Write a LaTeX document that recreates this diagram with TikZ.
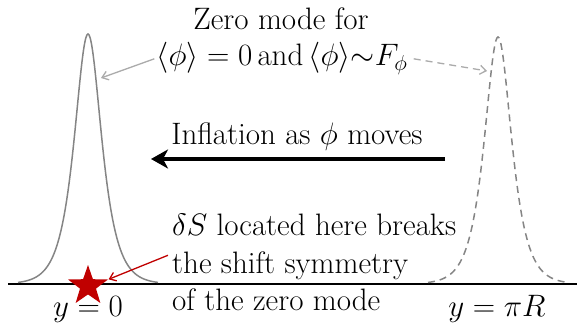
\RequirePackage{fix-cm}
\documentclass[tikz,border=0pt]{standalone}
\usepackage{fontspec}
\usetikzlibrary{arrows.meta,positioning,shapes.geometric}
\definecolor{curve}{HTML}{858585}
\definecolor{pointer}{HTML}{ABABAB}
\definecolor{defect}{HTML}{C00000}

\begin{document}
\begin{tikzpicture}[
  x=1pt, y=-1pt,
  font=\fontsize{31}{36}\selectfont,
  txt/.style={inner sep=0pt, align=center},
  peak/.style={draw=curve, line width=1.5pt},
  ghost/.style={peak, dash pattern=on 7pt off 5pt},
  hint/.style={-{Straight Barb[length=6pt, width=9pt]}, line width=1.3pt, draw=pointer},
  push/.style={-{Stealth[length=17pt, width=19pt, inset=5pt]}, line width=3.5pt},
  marker/.style={star, star points=5, star point ratio=2.5, fill=defect,
    minimum size=42pt, inner sep=0pt}
]
\useasboundingbox (0,0) rectangle (577,323);
% brane axis
\draw[line width=1.8pt] (8,284) coordinate (axisL) -- (577,284) coordinate (axisR);
% localized zero modes
\draw[peak] plot[domain=-70:70, samples=141, smooth]
  ({88+\x}, {284-250*2/(exp(\x/12.15)+exp(-\x/12.15))});
\draw[ghost] plot[domain=-70:70, samples=141, smooth]
  ({498+\x}, {284-247*2/(exp(\x/12.15)+exp(-\x/12.15))});
\coordinate (peakL) at (101,78);
\coordinate (peakR) at (487,71);
% labels
\node[txt, anchor=base] (zero) at (281,30) {Zero mode for};
\node[txt, anchor=base] (vev) at (282,66) {$\langle\phi\rangle=0$\,and\,$\langle\phi\rangle{\sim}F_\phi$};
\node[txt, anchor=base] (infl) at (297,144) {Inflation as $\phi$ moves};
\node[txt, anchor=base west] (dS) at (172,235) {$\delta S$ located here breaks};
\node[txt, anchor=base west] (shift) at (172,273) {the shift symmetry};
\node[txt, anchor=base west] (ofzero) at (172,310) {of the zero mode};
\node[txt, anchor=base] (yzero) at (88,316) {$y=0$};
\node[txt, anchor=base] (ypiR) at (497,316) {$y=\pi R$};
\node[marker] (star) at (88,286) {};
\coordinate (tail) at (445,159);
\coordinate (head) at (151,159);
% pointers
\draw[hint] (vev.west) ++(-2,0) -- (peakL);
\draw[hint, dash pattern=on 7pt off 5pt] (vev.east) ++(6,0) -- (peakR);
\draw[push] (tail) -- (head);
\draw[hint, draw=defect] (shift.west) ++(-4,-10) -- (star.18);
\end{tikzpicture}
\end{document}
